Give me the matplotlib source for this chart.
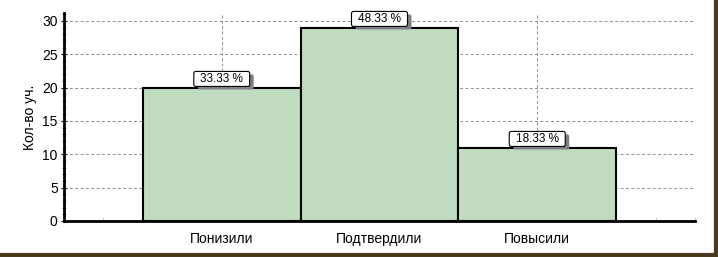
import numpy as np
import matplotlib.pyplot as plt
from matplotlib.patches import FancyBboxPatch
from matplotlib.ticker import MultipleLocator

categories = ['Понизили', 'Подтвердили', 'Повысили']
counts = [20, 29, 11]
percents = ['33.33 %', '48.33 %', '18.33 %']

plt.rcParams['font.family'] = ['Liberation Sans', 'DejaVu Sans']

fig = plt.figure(figsize=(7.18, 2.57), dpi=100)
fig.patch.set_facecolor('white')
ax = fig.add_axes([64/718, 1 - 221/257, 631/718, 208/257])

x = np.arange(1, len(categories) + 1)
ax.bar(x, counts, width=1.0, color='#c0dcc0', edgecolor='black', linewidth=1.5, zorder=3)

# value labels (boxes drawn below after layout is known)
labels = []
for xi, c, p in zip(x, counts, percents):
    t = ax.annotate(p, (xi, c), xytext=(0, 6.3), textcoords='offset points', ha='center', va='center',
                    fontsize=8.5, color='black', zorder=7, annotation_clip=False)
    labels.append(t)

ax.set_xlim(0, 4)
ax.set_ylim(0, 31.2)
ax.set_xticks(x)
ax.set_xticklabels(categories, fontsize=10)
ax.xaxis.set_minor_locator(MultipleLocator(0.25))
ax.yaxis.set_major_locator(MultipleLocator(5))
ax.yaxis.set_minor_locator(MultipleLocator(1))
ax.tick_params(axis='x', which='major', length=0, pad=8)
ax.tick_params(axis='x', which='minor', length=3, color='#c0c0c0', direction='in')
ax.tick_params(axis='y', which='major', length=5, direction='inout', labelsize=10, pad=2)
ax.tick_params(axis='y', which='minor', length=3, direction='inout', color='#808080')

ax.grid(True, axis='both', which='major', linestyle=(0, (3, 2.5)), color='#909090', linewidth=0.7, zorder=0)

for s in ['top', 'right']:
    ax.spines[s].set_visible(False)
ax.spines['left'].set_linewidth(2)
ax.spines['bottom'].set_linewidth(2)

ax.set_ylabel('Кол-во уч.', fontsize=10, labelpad=4)

# window-like border
fig.add_artist(plt.Line2D([0, 1], [2/257, 2/257], transform=fig.transFigure, color='#4b3a22', lw=3))
fig.add_artist(plt.Line2D([1 - 2/718, 1 - 2/718], [0, 1], transform=fig.transFigure, color='#4b3a22', lw=3))

# white label boxes with grey shadow
fig.canvas.draw()
r = fig.canvas.get_renderer()
for t in labels:
    bb = t.get_window_extent(r)
    cx, cy = (bb.x0 + bb.x1) / 2, (bb.y0 + bb.y1) / 2
    w, h = bb.width + 13, 15
    sh = FancyBboxPatch((cx - w / 2 + 4, cy - h / 2 - 3), w, h, boxstyle='round,pad=0,rounding_size=2',
                        transform=None, fc='#808080', ec='none', zorder=5, clip_on=False)
    box = FancyBboxPatch((cx - w / 2, cy - h / 2), w, h, boxstyle='round,pad=0,rounding_size=2',
                         transform=None, fc='white', ec='black', lw=0.8, zorder=6, clip_on=False)
    ax.add_artist(sh)
    ax.add_artist(box)

fig.savefig('out.png', dpi=100)
